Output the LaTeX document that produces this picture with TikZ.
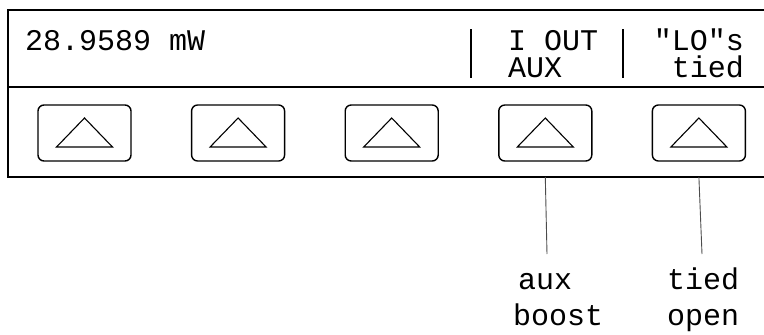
\documentclass[tikz,border=0pt]{standalone}
\usepackage{fontspec}
\setmonofont{Liberation Mono}
\usetikzlibrary{positioning,calc}

\begin{document}
\begin{tikzpicture}[x=1pt,y=-1pt,
  lcd/.style={font=\ttfamily\fontsize{30}{30}\selectfont,inner sep=0pt,anchor=base west,
    text height=21pt,text depth=3pt},
  key/.style={draw,line width=1.4pt,rounded corners=6pt,minimum width=93pt,minimum height=56pt,inner sep=0pt},
  tri/.style={line width=1.1pt,line join=miter},
  call/.style={draw=black!70,line width=0.9pt}]
\useasboundingbox (0,0) rectangle (764,335);
% front panel frame
\draw[line width=2pt] (764,10) -- (8,10) -- (8,177) -- (764,177);
\draw[line width=2pt] (8,87) -- (764,87);
\coordinate (pb) at (0,177);
% display
\node[lcd] (val) at (25,50) {28.9589 mW};
\draw[line width=2.5pt] (471,29) -- (471,78);
\draw[line width=2.5pt] (623,29) -- (623,78);
\node[lcd] (iout) at (508,50) {I OUT};
\node[lcd] (aux) at (508,77) {AUX};
\node[lcd,anchor=base east] (lo) at (744,50) {"LO"s};
\node[lcd,anchor=base east] (tied) at (744,77) {tied};
% soft keys
\foreach \i in {1,...,5}{
  \node[key] (b\i) at (84.5+153.6*\i-153.6,133) {};
  \draw[tri] ($(b\i.center)+(-28,14)$) -- ($(b\i.center)+(28,14)$)
     -- ($(b\i.center)+(0,-15)$) -- cycle;
}
% key functions
\node[lcd] (f4a) at (518,289) {aux};
\node[lcd] (f4b) at (513,325) {boost};
\node[lcd] (f5a) at (667,289) {tied};
\node[lcd] (f5b) at (667,325) {open};
\coordinate (e4) at (547,254);
\coordinate (e5) at (702,254);
\draw[call] (b4 |- pb) -- (e4);
\draw[call] (b5 |- pb) -- (e5);
\end{tikzpicture}
\end{document}
